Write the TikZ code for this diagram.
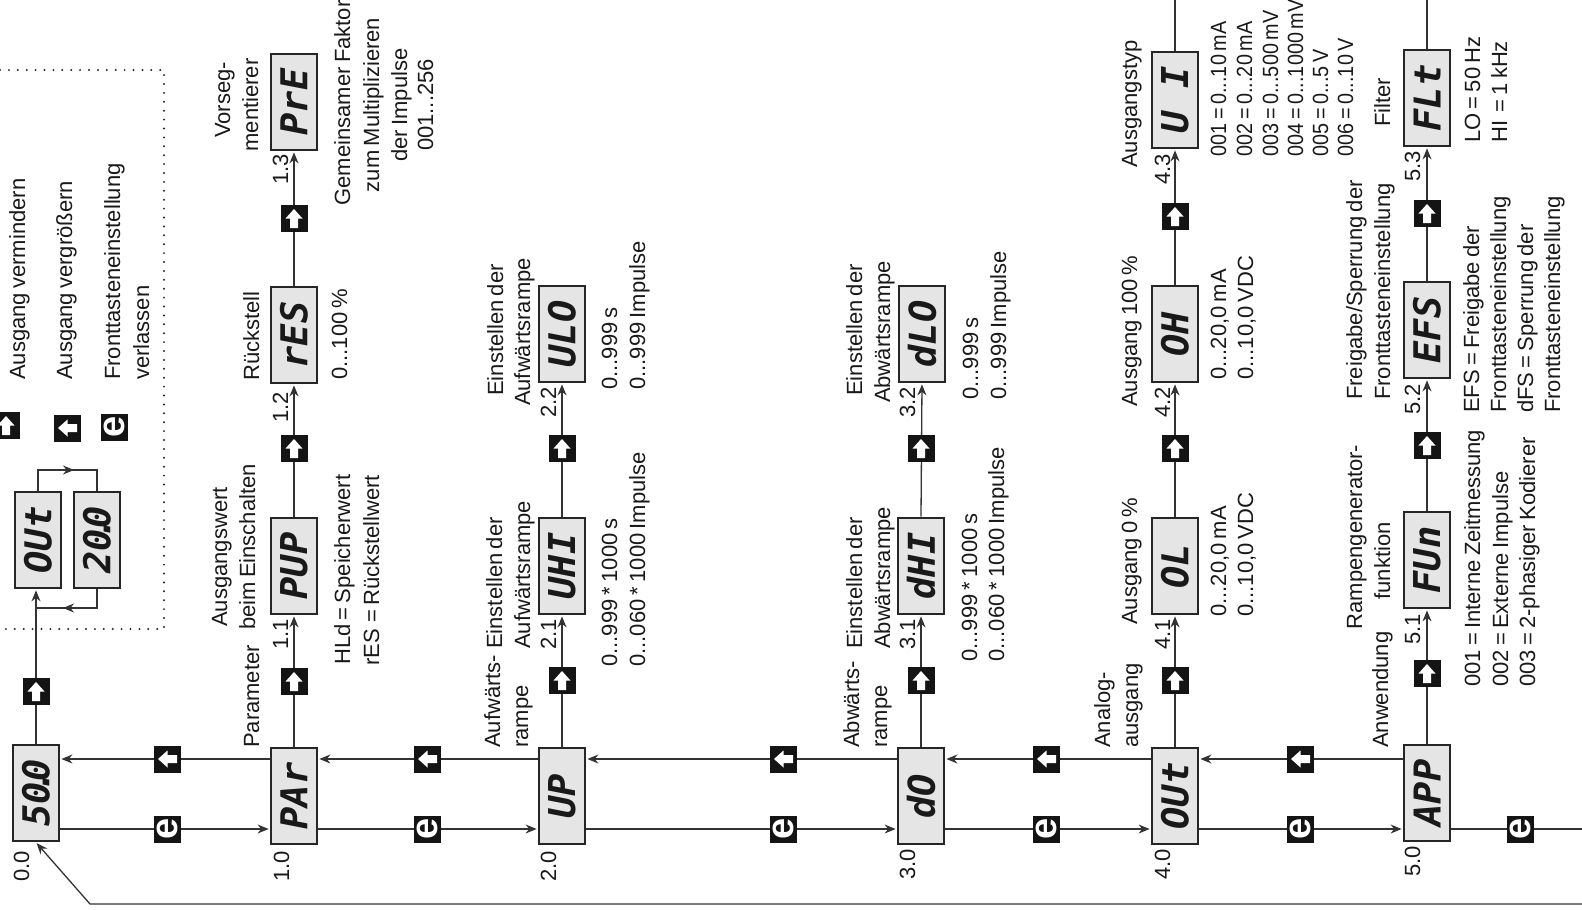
\documentclass[tikz,border=0pt]{standalone}
\usepackage{fontspec}
\setmainfont{Liberation Sans}[WordSpace=0.7]
\newfontfamily\segfam{DejaVu Sans Mono}
\usetikzlibrary{arrows.meta,calc}
\newcommand\tf{\fontsize{22}{26}\selectfont}
\newcommand\sg[1]{\rotatebox{90}{\segfam\bfseries\itshape\fontsize{37}{37}\selectfont #1}}
\newcommand\dd{\kern-.3em.\kern-.3em}
\newcommand\nar[1]{\scalebox{0.9}[1]{#1}}
\begin{document}
\begin{tikzpicture}[x=1pt,y=-1pt,
  disp/.style={draw=black!85, line width=2.8pt, fill=black!10, minimum width=46pt, minimum height=96pt, inner sep=0pt, text=black!90},
  key/.style={fill=black!92, minimum size=27pt, inner sep=0pt},
  upkey/.style={key, path picture={\fill[white] ([shift={(0pt,9pt)}]path picture bounding box.center) -- ++(8.5pt,-9.5pt) -- ++(-4.5pt,0pt) -- ++(0pt,-9.5pt) -- ++(-8pt,0pt) -- ++(0pt,9.5pt) -- ++(-4.5pt,0pt) -- cycle;}},
  leftkey/.style={key, path picture={\fill[white] ([shift={(-9pt,0pt)}]path picture bounding box.center) -- ++(9.5pt,8.5pt) -- ++(0pt,-4.5pt) -- ++(9.5pt,0pt) -- ++(0pt,-8pt) -- ++(-9.5pt,0pt) -- ++(0pt,-4.5pt) -- cycle;}},
  ekey/.style={key, text=white, font=\fontsize{38}{38}\selectfont\bfseries},
  conn/.style={draw=black!80, line width=1.3pt},
  arr/.style={conn, -{Stealth[length=11pt,width=9pt]}, shorten >=1pt},
  dotline/.style={draw=black!85, line width=2.2pt, line cap=round, dash pattern=on 0pt off 8.9pt},
  txt/.style={rotate=90, anchor=base west, inner sep=0pt, font=\tf, text=black!90},
  txtc/.style={rotate=90, anchor=base, inner sep=0pt, font=\tf, text=black!90}]
\fill[white] (0,0) rectangle (1582,910);
\useasboundingbox (0,0) rectangle (1582,910);

% helper coordinates
\coordinate (hU) at (0,759);
\coordinate (hL) at (0,829);
\coordinate (eR) at (1582,829);
\coordinate (bR) at (1582,904);
\coordinate (bL) at (90,904);
\coordinate (t4) at (1175,0);
\coordinate (t5) at (1427,0);
\coordinate (lT) at (0,470);
\coordinate (lB) at (0,608);
\coordinate (lTa) at (75,470);
\coordinate (lBa) at (62,608);

% dotted legend frame
\draw[dotline] (0,70) -- (164,70) -- (164,629) -- (0,629);

% display boxes
\node[disp] (s00) at (36,793) {\sg{50\dd0}};
\node[disp] (pAr) at (294,796) {\sg{PAr}};
\node[disp] (uP) at (562,796) {\sg{UP}};
\node[disp] (dO) at (921,796) {\sg{dO}};
\node[disp] (oUt) at (1175,796) {\sg{OUt}};
\node[disp] (aPP) at (1427,793) {\sg{APP}};

\node[disp] (pUP) at (294,566) {\sg{PUP}};
\node[disp] (rES) at (294,335) {\sg{rES}};
\node[disp] (prE) at (294,102) {\sg{PrE}};
\node[disp] (uHI) at (562,566) {\sg{UHI}};
\node[disp] (uLO) at (562,334) {\sg{ULO}};
\node[disp] (dHI) at (921,566) {\sg{dHI}};
\node[disp] (dLO) at (922,334) {\sg{dLO}};
\node[disp] (oL) at (1175,566) {\sg{OL}};
\node[disp] (oH) at (1175,334) {\sg{OH}};
\node[disp] (uI) at (1175,100) {\sg{U I}};
\node[disp] (fUn) at (1427,560) {\sg{FUn}};
\node[disp] (eFS) at (1427,330) {\sg{EFS}};
\node[disp] (fLt) at (1427,98) {\sg{FLt}};

\node[disp] (oUtL) at (38,540) {\sg{OUt}};
\node[disp] (t20) at (97,540) {\sg{20\dd0}};

% main row connectors
\draw[arr] (pAr.west |- hU) -- (s00.east |- hU);
\draw[arr] (uP.west |- hU) -- (pAr.east |- hU);
\draw[arr] (dO.west |- hU) -- (uP.east |- hU);
\draw[arr] (oUt.west |- hU) -- (dO.east |- hU);
\draw[arr] (aPP.west |- hU) -- (oUt.east |- hU);
\draw[arr] (s00.east |- hL) -- (pAr.west |- hL);
\draw[arr] (pAr.east |- hL) -- (uP.west |- hL);
\draw[arr] (uP.east |- hL) -- (dO.west |- hL);
\draw[arr] (dO.east |- hL) -- (oUt.west |- hL);
\draw[arr] (oUt.east |- hL) -- (aPP.west |- hL);
\draw[conn] (aPP.east |- hL) -- (eR);
\draw[arr] (bR) -- (bL) -- (s00.south);

% vertical chains
\draw[arr] (pAr.north) -- (pUP.south);
\draw[arr] (pUP.north) -- (rES.south);
\draw[arr] (rES.north) -- (prE.south);
\draw[arr] (uP.north) -- (uHI.south);
\draw[arr] (uHI.north) -- (uLO.south);
\draw[arr] (dO.north) -- (dHI.south);
\draw[arr] (dHI.north) -- (dLO.south);
\draw[arr] (oUt.north) -- (oL.south);
\draw[arr] (oL.north) -- (oH.south);
\draw[arr] (oH.north) -- (uI.south);
\draw[conn] (uI.north) -- (t4);
\draw[arr] (aPP.north) -- (fUn.south);
\draw[arr] (fUn.north) -- (eFS.south);
\draw[arr] (eFS.north) -- (fLt.south);
\draw[conn] (fLt.north) -- (t5);

% legend loop
\draw[arr] (s00.north) -- (s00.north |- oUtL.south);
\draw[conn] (oUtL.north) -- (oUtL.north |- lT) -- (t20.north |- lT) -- (t20.north);
\draw[arr] (oUtL.north |- lT) -- (lTa);
\draw[conn] (t20.south) -- (t20.south |- lB) -- (s00.north |- lB);
\draw[arr] (t20.south |- lB) -- (lBa);

% keys on main row
\node[leftkey] (kU1) at (167,759) {};
\node[leftkey] (kU2) at (427,759) {};
\node[leftkey] (kU3) at (783,759) {};
\node[leftkey] (kU4) at (1046,759) {};
\node[leftkey] (kU5) at (1300,759) {};
\node[ekey] (kE1) at (167,829) {\rotatebox{90}{e}};
\node[ekey] (kE2) at (427,829) {\rotatebox{90}{e}};
\node[ekey] (kE3) at (783,829) {\rotatebox{90}{e}};
\node[ekey] (kE4) at (1046,829) {\rotatebox{90}{e}};
\node[ekey] (kE5) at (1300,829) {\rotatebox{90}{e}};
\node[ekey] (kE6) at (1520,829) {\rotatebox{90}{e}};
% keys on vertical chains
\node[upkey] (kV0) at (36,691) {};
\node[upkey] (kV11) at (294,681) {};
\node[upkey] (kV12) at (294,448) {};
\node[upkey] (kV13) at (294,218) {};
\node[upkey] (kV21) at (562,680) {};
\node[upkey] (kV22) at (562,448) {};
\node[upkey] (kV31) at (921,680) {};
\node[upkey] (kV32) at (921,448) {};
\node[upkey] (kV41) at (1175,680) {};
\node[upkey] (kV42) at (1175,448) {};
\node[upkey] (kV43) at (1175,216) {};
\node[upkey] (kV51) at (1427,673) {};
\node[upkey] (kV52) at (1427,445) {};
\node[upkey] (kV53) at (1427,213) {};
% legend keys
\node[upkey] (kLg1) at (6,425) {};
\node[leftkey] (kLg2) at (67,428) {};
\node[ekey] (kLg3) at (114,427) {\rotatebox{90}{e}};

% legend texts
\node[txt] (lg1) at (25,380) {Ausgang vermindern};
\node[txt] (lg2) at (72,380) {Ausgang vergrößern};
\node[txt] (lg3) at (120,380) {Fronttasteneinstellung};
\node[txt] (lg4) at (149,380) {verlassen};

% step numbers
\node[txt] (n00) at (29,882) {0.0};
\node[txt] (n10) at (289,882) {1.0};
\node[txt] (n11) at (288,650) {1.1};
\node[txt] (n12) at (288,423) {1.2};
\node[txt] (n13) at (288,185) {1.3};
\node[txt] (n20) at (556,882) {2.0};
\node[txt] (n21) at (556,650) {2.1};
\node[txt] (n22) at (556,418) {2.2};
\node[txt] (n30) at (915,880) {3.0};
\node[txt] (n31) at (915,650) {3.1};
\node[txt] (n32) at (915,418) {3.2};
\node[txt] (n40) at (1170,880) {4.0};
\node[txt] (n41) at (1170,650) {4.1};
\node[txt] (n42) at (1170,418) {4.2};
\node[txt] (n43) at (1170,185) {4.3};
\node[txt] (n50) at (1420,877) {5.0};
\node[txt] (n51) at (1420,645) {5.1};
\node[txt] (n52) at (1420,415) {5.2};
\node[txt] (n53) at (1420,182) {5.3};

% column 1 texts
\node[txt] (c1a) at (259,748) {Parameter};
\node[txtc] (c1b) at (227,557) {Ausgangswert};
\node[txtc] (c1c) at (255,547) {beim Einschalten};
\node[txt] (c1d) at (350,665) {HLd = Speicherwert};
\node[txt] (c1e) at (379,666) {rES\kern2pt\ = Rückstellwert};
\node[txt] (c1f) at (259,381) {Rückstell};
\node[txt] (c1g) at (347,380) {0...100\,\%};
\node[txtc] (c1h) at (230,100) {Vorseg-};
\node[txtc] (c1i) at (258,105) {mentierer};
\node[txtc] (c1j) at (350,103) {Gemeinsamer Faktor};
\node[txtc] (c1k) at (379,105) {zum Multiplizieren};
\node[txtc] (c1l) at (407,105) {der Impulse};
\node[txtc] (c1m) at (433,105) {001...256};

% column 2 texts
\node[txt] (c2a) at (500,748) {Aufwärts-};
\node[txt] (c2b) at (528,748) {rampe};
\node[txt] (c2c) at (502,649) {Einstellen der};
\node[txt] (c2d) at (530,649) {Aufwärtsrampe};
\node[txt] (c2e) at (617,667) {0...999 * 1000 s};
\node[txt] (c2f) at (645,667) {0...060 * 1000 Impulse};
\node[txtc] (c2g) at (503,330) {Einstellen der};
\node[txtc] (c2h) at (530,332) {Aufwärtsrampe};
\node[txt] (c2i) at (617,390) {0...999 s};
\node[txt] (c2j) at (645,390) {0...999 Impulse};

% column 3 texts
\node[txt] (c3a) at (859,748) {Abwärts-};
\node[txt] (c3b) at (887,748) {rampe};
\node[txt] (c3c) at (862,649) {Einstellen der};
\node[txt] (c3d) at (890,649) {Abwärtsrampe};
\node[txt] (c3e) at (977,662) {0...999 * 1000 s};
\node[txt] (c3f) at (1004,662) {0...060 * 1000 Impulse};
\node[txtc] (c3g) at (862,330) {Einstellen der};
\node[txtc] (c3h) at (890,332) {Abwärtsrampe};
\node[txt] (c3i) at (978,400) {0...999 s};
\node[txt] (c3j) at (1006,400) {0...999 Impulse};

% column 4 texts
\node[txt] (c4a) at (1110,748) {Analog-};
\node[txt] (c4b) at (1138,748) {ausgang};
\node[txt] (c4c) at (1137,625) {Ausgang 0\,\%};
\node[txt] (c4d) at (1226,617) {0...20,0 mA};
\node[txt] (c4e) at (1253,617) {0...10,0 VDC};
\node[txt] (c4f) at (1137,407) {Ausgang 100\,\%};
\node[txt] (c4g) at (1226,380) {0...20,0 mA};
\node[txt] (c4h) at (1253,380) {0...10,0 VDC};
\node[txt] (c4i) at (1137,168) {Ausgangstyp};
\node[txt] (c4j) at (1226,157) {\nar{001 = 0...10 mA}};
\node[txt] (c4k) at (1252,157) {\nar{002 = 0...20 mA}};
\node[txt] (c4l) at (1278,157) {\nar{003 = 0...500 mV}};
\node[txt] (c4m) at (1303,157) {\nar{004 = 0...1000 mV}};
\node[txt] (c4n) at (1328,157) {\nar{005 = 0...5 V}};
\node[txt] (c4o) at (1353,157) {\nar{006 = 0...10 V}};

% column 5 texts
\node[txt] (c5a) at (1388,748) {Anwendung};
\node[txtc] (c5b) at (1362,537) {Rampengenerator-};
\node[txtc] (c5c) at (1390,561) {funktion};
\node[txt] (c5d) at (1480,687) {001 = Interne Zeitmessung};
\node[txt] (c5e) at (1508,687) {002 = Externe Impulse};
\node[txt] (c5f) at (1535,687) {003 = 2-phasiger Kodierer};
\node[txt] (c5g) at (1362,400) {Freigabe/Sperrung der};
\node[txt] (c5h) at (1390,400) {Fronttasteneinstellung};
\node[txt] (c5i) at (1479,413) {EFS = Freigabe der};
\node[txt] (c5j) at (1506,413) {Fronttasteneinstellung};
\node[txt] (c5k) at (1533,413) {dFS = Sperrung der};
\node[txt] (c5l) at (1560,413) {Fronttasteneinstellung};
\node[txt] (c5m) at (1390,127) {Filter};
\node[txt] (c5n) at (1480,143) {LO = 50 Hz};
\node[txt] (c5o) at (1507,143) {HI\kern4pt\ = 1 kHz};
\end{tikzpicture}
\end{document}
